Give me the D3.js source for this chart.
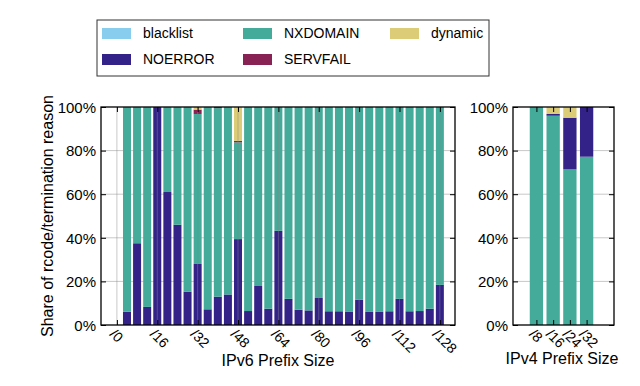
<!DOCTYPE html>
<html>
<head>
<meta charset="utf-8">
<script src="https://cdn.jsdelivr.net/npm/d3@7"></script>
<style>
  body { margin: 0; background: #fff; }
  text { font-family: "Liberation Sans", Arial, Helvetica, sans-serif; fill: #000; }
</style>
</head>
<body>
<div id="chart"></div>
<script>
// rcode categories and colours
const categories = ["blacklist", "NOERROR", "NXDOMAIN", "SERVFAIL", "dynamic"];
const colors = ["#88ccee", "#332288", "#44aa99", "#882255", "#ddcc77"];

// IPv6 panel (percent per prefix size)
const v6Prefixes = [4, 8, 12, 16, 20, 24, 28, 32, 36, 40, 44, 48, 52, 56, 60, 64,
                    68, 72, 76, 80, 84, 88, 92, 96, 100, 104, 108, 112, 116, 120, 124, 128];
const v6Noerror = [6.1, 37.5, 8.3, 100, 61, 46, 15.3, 28, 7.2, 13, 14, 39.4, 6.4, 17.9, 7.5, 43.2,
                   12, 7, 6.7, 12.4, 6.3, 6.3, 6, 11.6, 6, 6, 6.3, 12, 6.3, 6.4, 7.5, 18.4];
const v6Nxdomain = [93.9, 62.5, 91.7, 0, 39, 54, 84.7, 68.8, 92.8, 86.5, 86, 44.4, 93.6, 82.1, 92.5, 56.8,
                    88, 93, 93.3, 87.6, 93.7, 93.7, 94, 88.4, 94, 94, 93.7, 88, 93.7, 93.6, 92.5, 81.6];
const v6Servfail = [0, 0, 0, 0, 0, 0, 0, 2, 0, 0.5, 0, 0.7, 0, 0, 0, 0,
                    0, 0, 0, 0, 0, 0, 0, 0, 0, 0, 0, 0, 0, 0, 0, 0];
const v6Dynamic = [0, 0, 0, 0, 0, 0, 0, 1.2, 0, 0, 0, 15.5, 0, 0, 0, 0,
                   0, 0, 0, 0, 0, 0, 0, 0, 0, 0, 0, 0, 0, 0, 0, 0];
const v6Blacklist = [0, 0, 0, 0, 0, 0, 0, 0, 0, 0, 0, 0, 0, 0, 0, 0,
                     0, 0, 0, 0, 0, 0, 0, 0, 0, 0, 0, 0, 0, 0, 0, 0];
const v6Ticks = [0, 16, 32, 48, 64, 80, 96, 112, 128];

// IPv4 panel
const v4Prefixes = [8, 16, 24, 32];
const v4Nxdomain = [100, 96, 71.4, 77.2];
const v4Noerror = [0, 0.8, 23.7, 22.8];
const v4Servfail = [0, 0, 0, 0];
const v4Dynamic = [0, 3.2, 4.9, 0];
const v4Blacklist = [0, 0, 0, 0];

const yTicks = [0, 20, 40, 60, 80, 100];

const width = 640, height = 386;
const color = d3.scaleOrdinal().domain(categories).range(colors);

const svg = d3.select("#chart").append("svg")
    .attr("width", width)
    .attr("height", height);

svg.append("rect").attr("width", width).attr("height", height).attr("fill", "#fff");

function rows(prefixes, cols) {
    return prefixes.map((p, i) => {
        const r = {prefix: p};
        categories.forEach(c => r[c] = cols[c][i]);
        return r;
    });
}

const v6Data = rows(v6Prefixes, {blacklist: v6Blacklist, NOERROR: v6Noerror, NXDOMAIN: v6Nxdomain,
                                 SERVFAIL: v6Servfail, dynamic: v6Dynamic});
const v4Data = rows(v4Prefixes, {blacklist: v4Blacklist, NOERROR: v4Noerror, NXDOMAIN: v4Nxdomain,
                                 SERVFAIL: v4Servfail, dynamic: v4Dynamic});

// draw one panel
function panel(opts) {
    const x = d3.scaleLinear().domain(opts.xDomain).range([opts.left, opts.right]);
    const y = d3.scaleLinear().domain([0, 100]).range([opts.bottom, opts.top]);
    const g = svg.append("g");

    // horizontal grid
    g.append("g").selectAll("line")
        .data(yTicks.slice(1, -1))
        .enter().append("line")
        .attr("x1", opts.left).attr("x2", opts.right)
        .attr("y1", d => y(d)).attr("y2", d => y(d))
        .attr("stroke", "#c8c8c8").attr("stroke-width", 1);

    const series = d3.stack().keys(opts.order)(opts.data);
    g.append("g").selectAll("g")
        .data(series)
        .enter().append("g")
        .attr("fill", d => color(d.key))
        .selectAll("rect")
        .data(d => d)
        .enter().append("rect")
        .attr("x", d => x(d.data.prefix) - opts.barW / 2)
        .attr("width", opts.barW)
        .attr("y", d => y(d[1]))
        .attr("height", d => Math.max(0, y(d[0]) - y(d[1])));

    // vertical grid on top of bars
    if (opts.vgrid) {
        g.append("g").selectAll("line")
            .data(opts.xTicks)
            .enter().append("line")
            .attr("x1", d => x(d)).attr("x2", d => x(d))
            .attr("y1", opts.top).attr("y2", opts.bottom)
            .attr("stroke", "#888").attr("stroke-opacity", 0.45).attr("stroke-width", 1);
    }

    // axes (ticks pointing inward)
    const yl = d3.axisLeft(y).tickValues(yTicks).tickSize(-5).tickPadding(5).tickFormat(d => d + "%");
    const yr = d3.axisRight(y).tickValues(yTicks).tickSize(-5).tickFormat("");
    const xb = d3.axisBottom(x).tickValues(opts.xTicks).tickSize(-5).tickFormat("");
    const xt = d3.axisTop(x).tickValues(opts.xTicks).tickSize(-5).tickFormat("");

    const ga = g.append("g").attr("transform", `translate(${opts.left},0)`).call(yl);
    ga.selectAll("text").attr("font-size", 15).attr("dy", "0.35em");
    g.append("g").attr("transform", `translate(${opts.right},0)`).call(yr);
    g.append("g").attr("transform", `translate(0,${opts.bottom})`).call(xb);
    g.append("g").attr("transform", `translate(0,${opts.top})`).call(xt);
    g.selectAll(".domain").remove();
    g.selectAll(".tick line").attr("stroke", "#000");

    g.append("rect")
        .attr("x", opts.left).attr("y", opts.top)
        .attr("width", opts.right - opts.left).attr("height", opts.bottom - opts.top)
        .attr("fill", "none").attr("stroke", "#000").attr("stroke-width", 1.3);

    // rotated tick labels
    g.append("g").selectAll("g")
        .data(opts.xTicks)
        .enter().append("g")
        .attr("transform", d => `translate(${x(d) - 8},${opts.bottom + 10})`)
        .append("text")
        .attr("transform", "rotate(45)")
        .attr("font-size", 14)
        .text(d => "/" + d);

    g.append("text")
        .attr("x", opts.titleX).attr("y", opts.titleY)
        .attr("text-anchor", "middle").attr("font-size", 16)
        .text(opts.title);
}

panel({
    data: v6Data,
    order: ["blacklist", "NOERROR", "NXDOMAIN", "SERVFAIL", "dynamic"],
    xDomain: [-6.3, 134], left: 101, right: 455, top: 107, bottom: 325,
    barW: 8, xTicks: v6Ticks, vgrid: true,
    title: "IPv6 Prefix Size", titleX: 278, titleY: 366
});

panel({
    data: v4Data,
    order: ["blacklist", "NXDOMAIN", "NOERROR", "SERVFAIL", "dynamic"],
    xDomain: [-3.2, 45.1], left: 513, right: 614, top: 107, bottom: 325,
    barW: 13.3, xTicks: v4Prefixes, vgrid: false,
    title: "IPv4 Prefix Size", titleX: 562, titleY: 364
});

// y axis title
svg.append("text")
    .attr("transform", "translate(53,216) rotate(-90)")
    .attr("text-anchor", "middle").attr("font-size", 16)
    .text("Share of rcode/termination reason");

// legend
const legend = svg.append("g");
legend.append("rect")
    .attr("x", 97).attr("y", 20).attr("width", 392).attr("height", 56)
    .attr("fill", "#fff").attr("stroke", "#333").attr("stroke-width", 1);

const legendItems = [
    {key: "blacklist", col: 0, row: 0},
    {key: "NXDOMAIN", col: 1, row: 0},
    {key: "dynamic", col: 2, row: 0},
    {key: "NOERROR", col: 0, row: 1},
    {key: "SERVFAIL", col: 1, row: 1}
];
const colX = [102, 243, 390];
const rowY = [28, 54];

const li = legend.selectAll("g.item")
    .data(legendItems)
    .enter().append("g")
    .attr("class", "item")
    .attr("transform", d => `translate(${colX[d.col]},${rowY[d.row]})`);
li.append("rect")
    .attr("width", 29).attr("height", 11)
    .attr("fill", d => color(d.key));
li.append("text")
    .attr("x", 41).attr("y", 5.5).attr("dy", "0.35em")
    .attr("font-size", 14)
    .text(d => d.key);
</script>
</body>
</html>
